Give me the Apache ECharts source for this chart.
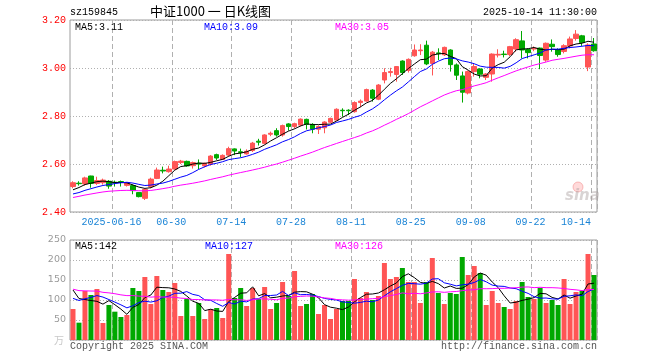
<!DOCTYPE html>
<html><head><meta charset="utf-8">
<script src="https://cdn.jsdelivr.net/npm/echarts@6/dist/echarts.min.js"></script>
<style>html,body{margin:0;padding:0;background:#fff}#c{width:660px;height:360px}</style>
</head><body><div id="c"></div>
<script>
// ---- data ----
const dates = [
'2025-06-05','2025-06-06','2025-06-09','2025-06-10','2025-06-11','2025-06-12','2025-06-13','2025-06-16','2025-06-17','2025-06-18','2025-06-19','2025-06-20','2025-06-23','2025-06-24','2025-06-25','2025-06-26','2025-06-27','2025-06-30',
'2025-07-01','2025-07-02','2025-07-03','2025-07-04','2025-07-07','2025-07-08','2025-07-09','2025-07-10','2025-07-11','2025-07-14','2025-07-15','2025-07-16','2025-07-17','2025-07-18','2025-07-21','2025-07-22','2025-07-23','2025-07-24','2025-07-25','2025-07-28','2025-07-29','2025-07-30','2025-07-31',
'2025-08-01','2025-08-04','2025-08-05','2025-08-06','2025-08-07','2025-08-08','2025-08-11','2025-08-12','2025-08-13','2025-08-14','2025-08-15','2025-08-18','2025-08-19','2025-08-20','2025-08-21','2025-08-22','2025-08-25','2025-08-26','2025-08-27','2025-08-28','2025-08-29',
'2025-09-01','2025-09-02','2025-09-03','2025-09-04','2025-09-05','2025-09-08','2025-09-09','2025-09-10','2025-09-11','2025-09-12','2025-09-15','2025-09-16','2025-09-17','2025-09-18','2025-09-19','2025-09-22','2025-09-23','2025-09-24','2025-09-25','2025-09-26','2025-09-29','2025-09-30',
'2025-10-09','2025-10-10','2025-10-13','2025-10-14'];

const open = [2.506,2.520,2.517,2.550,2.519,2.522,2.528,2.524,2.527,2.511,2.510,2.481,2.457,2.506,2.540,2.574,2.568,2.579,2.606,2.611,2.593,2.603,2.592,2.600,2.639,2.619,2.637,2.663,2.651,2.642,2.656,2.695,2.686,2.724,2.739,2.721,2.767,2.756,2.762,2.786,2.765,2.745,2.751,2.774,2.783,2.824,2.824,2.818,2.856,2.862,2.908,2.870,2.950,2.981,2.973,3.029,2.990,3.051,3.072,3.095,3.019,3.063,3.055,3.075,3.013,2.967,2.896,2.985,2.996,2.961,2.975,3.054,3.058,3.056,3.079,3.113,3.077,3.079,3.083,3.033,3.099,3.075,3.069,3.092,3.123,3.134,3.004,3.100];
const close = [2.522,2.518,2.542,2.519,2.531,2.533,2.508,2.521,2.523,2.522,2.489,2.464,2.494,2.537,2.575,2.571,2.579,2.610,2.612,2.592,2.606,2.600,2.603,2.633,2.625,2.636,2.664,2.654,2.648,2.653,2.687,2.691,2.721,2.728,2.721,2.760,2.756,2.768,2.787,2.765,2.745,2.756,2.775,2.790,2.828,2.822,2.822,2.856,2.862,2.910,2.874,2.929,2.981,2.985,3.006,2.981,3.036,3.075,3.075,3.017,3.066,3.060,3.086,3.014,2.970,2.899,2.985,3.006,2.974,2.975,3.058,3.057,3.056,3.089,3.118,3.075,3.064,3.082,3.052,3.103,3.089,3.056,3.093,3.121,3.141,3.106,3.096,3.072];
const low = [2.499,2.510,2.510,2.501,2.513,2.514,2.497,2.506,2.506,2.506,2.474,2.461,2.450,2.499,2.537,2.561,2.564,2.576,2.600,2.589,2.581,2.579,2.586,2.593,2.617,2.617,2.631,2.637,2.628,2.639,2.650,2.677,2.682,2.716,2.714,2.714,2.739,2.748,2.756,2.744,2.728,2.725,2.728,2.770,2.781,2.797,2.804,2.814,2.836,2.860,2.860,2.866,2.936,2.964,2.943,2.971,2.981,3.047,3.054,3.012,2.969,3.033,3.050,2.985,2.950,2.856,2.890,2.964,2.957,2.950,2.943,3.044,3.044,3.050,3.068,3.040,3.040,3.070,2.995,3.026,3.068,3.047,3.061,3.082,3.114,3.092,2.987,3.068];
const high = [2.528,2.528,2.547,2.551,2.547,2.539,2.533,2.531,2.531,2.525,2.515,2.483,2.499,2.543,2.585,2.589,2.593,2.614,2.617,2.614,2.610,2.619,2.606,2.637,2.643,2.640,2.672,2.665,2.664,2.661,2.692,2.705,2.724,2.735,2.749,2.764,2.770,2.772,2.790,2.789,2.770,2.761,2.778,2.793,2.832,2.832,2.828,2.861,2.869,2.914,2.912,2.933,2.999,3.001,3.008,3.032,3.040,3.098,3.099,3.114,3.071,3.082,3.089,3.078,3.019,2.985,2.989,3.019,2.999,2.978,3.061,3.078,3.072,3.092,3.124,3.154,3.082,3.090,3.085,3.106,3.119,3.082,3.099,3.131,3.158,3.138,3.103,3.125];
// volume, 万
const volume = [77.5,43.3,122.5,112.5,127.5,42.5,87.5,70.8,57.5,62.5,130,122.5,157.5,90,160,125,120,142.5,60,102.5,60,92.5,52.5,77.5,80,55,215,105,130,85,130,102.5,132.5,77.5,92.5,145,110,172.5,85,90,115,65,87.5,52.5,77.5,97.5,97.5,152.5,105,120,100,110,192.5,152.5,157.5,180,145,145,92.5,145,205,117.5,90,117.5,115,207.5,162.5,185,167.5,87.5,122.5,92.5,82.5,77.5,97.5,145,107.5,102.5,130,92.5,100,87.5,152.5,90,120,122.5,215,162.5];
// estimated sessions before the window (only feed the moving averages at the left edge)
const priorCloses = [2.37,2.38,2.39,2.40,2.41,2.42,2.47,2.48,2.50,2.50,2.51,2.50,2.49,2.47,2.45,2.45,2.44,2.47,2.48,2.48,2.46,2.45,2.45,2.46,2.47,2.47,2.48,2.49,2.50];
const priorVolumes = [150,140,125,130,138,128,135,142,120,128,160,175,150,130,145,138,142,130,128,136,95,80,78,82,80,150,135,125,137.5];

const tickDates = ['2025-06-16','2025-06-30','2025-07-14','2025-07-28','2025-08-11','2025-08-25','2025-09-08','2025-09-22','2025-10-14'];
const tickLabels = ['2025-06-16','06-30','07-14','07-28','08-11','08-25','09-08','09-22','10-14'];
const priceTicks = {min:2.40, max:3.20, step:0.20};
const volTicks = {min:0, max:250, step:50};
const maLegendPrice = ['3.11','3.09','3.05'];
const maLegendVol = ['142','127','126'];

// ---- chart ----
const RED = '#ff5555', GREEN = '#00a800';
function movingAvg(values, prior, n){
  const all = prior.concat(values);
  return values.map((_, i) => {
    const end = prior.length + i; let s = 0;
    for (let k = end - n + 1; k <= end; k++) s += all[k];
    return +(s / n).toFixed(4);
  });
}
const kData = dates.map((d, i) => [open[i], close[i], low[i], high[i]]);
const volData = volume.map((v, i) => ({value: v, itemStyle: {color: close[i] >= open[i] ? RED : GREEN}}));
const MONO = '"Liberation Mono","DejaVu Sans Mono",monospace';
const isTick = (i, v) => tickDates.indexOf(v) >= 0;

function xAxisCfg(gi, showLabel){
  return {
    type: 'category', gridIndex: gi, data: dates, boundaryGap: true,
    axisLine: {show: false}, axisTick: {show: false},
    axisLabel: {
      show: showLabel, interval: isTick, margin: 5, color: '#1a84d6', fontFamily: MONO, fontSize: 10,
      formatter: v => { const k = tickDates.indexOf(v); if (k < 0) return '';
        return (k === tickDates.length - 1 ? '{e|' : '{n|') + tickLabels[k] + '}'; },
      rich: {
        n: {color: '#1a84d6', fontFamily: MONO, fontSize: 10, padding: [0, 7, 0, 0]},
        e: {color: '#1a84d6', fontFamily: MONO, fontSize: 10, padding: [0, 36, 0, 0]}
      }
    },
    splitLine: {show: true, interval: isTick, lineStyle: {color: '#b0b0b0', width: 1, type: [5, 3]}}
  };
}
function lineSeries(data, color, xi, yi){
  return {type: 'line', data, xAxisIndex: xi, yAxisIndex: yi, symbol: 'none', smooth: false,
    lineStyle: {color, width: 1}, itemStyle: {color}, z: 3};
}

const chart = echarts.init(document.getElementById('c'), null, {renderer: 'canvas'});
chart.setOption({
  animation: false,
  backgroundColor: '#ffffff',
  grid: [
    {left: 70, top: 20, width: 527, height: 192, show: true, borderColor: '#9c9c9c', borderWidth: 1},
    {left: 70, top: 240, width: 527, height: 100, show: true, borderColor: '#9c9c9c', borderWidth: 1}
  ],
  xAxis: [xAxisCfg(0, true), xAxisCfg(1, false)],
  yAxis: [
    {gridIndex: 0, min: priceTicks.min, max: priceTicks.max, interval: priceTicks.step,
     axisLine: {show: false}, axisTick: {show: false},
     axisLabel: {color: '#ff0000', fontFamily: MONO, fontSize: 10, margin: 4, formatter: v => v.toFixed(2)},
     splitLine: {lineStyle: {color: '#b0b0b0', width: 1, type: [1, 2]}}},
    {gridIndex: 1, min: volTicks.min, max: volTicks.max, interval: volTicks.step,
     axisLine: {show: false}, axisTick: {show: false},
     axisLabel: {color: '#9a9a9a', fontFamily: '"DejaVu Sans",sans-serif', fontSize: 9.5, margin: 4,
       formatter: v => v === 0 ? '' : String(v)},
     splitLine: {lineStyle: {color: '#b0b0b0', width: 1, type: [1, 2]}}}
  ],
  series: [
    {type: 'candlestick', data: kData, xAxisIndex: 0, yAxisIndex: 0, barWidth: 5,
     itemStyle: {color: RED, color0: GREEN, borderColor: RED, borderColor0: GREEN, borderWidth: 1}, z: 2},
    lineSeries(movingAvg(close, priorCloses, 5), '#000000', 0, 0),
    lineSeries(movingAvg(close, priorCloses, 10), '#0000ff', 0, 0),
    lineSeries(movingAvg(close, priorCloses, 30), '#ff00ff', 0, 0),
    {type: 'bar', data: volData, xAxisIndex: 1, yAxisIndex: 1, barWidth: 5, z: 2},
    lineSeries(movingAvg(volume, priorVolumes, 5), '#000000', 1, 1),
    lineSeries(movingAvg(volume, priorVolumes, 10), '#0000ff', 1, 1),
    lineSeries(movingAvg(volume, priorVolumes, 30), '#ff00ff', 1, 1)
  ],
  graphic: [
    {type: 'text', left: 70, top: 7, style: {text: 'sz159845', font: '10px ' + MONO, fill: '#000'}},
    {type: 'text', left: 150, top: 5, style: {text: '中证1000 一 日K线图', font: '13px "Noto Sans CJK SC",sans-serif', fill: '#000'}},
    {type: 'text', right: 63, top: 7, style: {text: '2025-10-14 11:30:00', font: '10px ' + MONO, fill: '#000'}},
    {type: 'text', left: 75, top: 22, z: 10, style: {text: 'MA5:' + maLegendPrice[0], font: '10px ' + MONO, fill: '#000'}},
    {type: 'text', left: 204, top: 22, z: 10, style: {text: 'MA10:' + maLegendPrice[1], font: '10px ' + MONO, fill: '#0000ff'}},
    {type: 'text', left: 335, top: 22, z: 10, style: {text: 'MA30:' + maLegendPrice[2], font: '10px ' + MONO, fill: '#ff00ff'}},
    {type: 'text', left: 75, top: 241, z: 10, style: {text: 'MA5:' + maLegendVol[0], font: '10px ' + MONO, fill: '#000'}},
    {type: 'text', left: 205, top: 241, z: 10, style: {text: 'MA10:' + maLegendVol[1], font: '10px ' + MONO, fill: '#0000ff'}},
    {type: 'text', left: 335, top: 241, z: 10, style: {text: 'MA30:' + maLegendVol[2], font: '10px ' + MONO, fill: '#ff00ff'}},
    {type: 'text', left: 54, top: 335, style: {text: '万', font: '10px "Noto Sans CJK SC",sans-serif', fill: '#c8c8c8'}},
    {type: 'text', left: 70, top: 341, style: {text: 'Copyright 2025 SINA.COM', font: '10px ' + MONO, fill: '#555'}},
    {type: 'text', right: 63, top: 341, style: {text: 'http://finance.sina.com.cn', font: '10px ' + MONO, fill: '#555'}},
    {type: 'circle', shape: {cx: 578, cy: 187, r: 5}, style: {fill: 'rgba(255,150,150,0.35)', stroke: 'rgba(240,120,120,0.45)', lineWidth: 1}, z: 1},
    {type: 'text', left: 565, top: 189, z: 1, style: {text: 'sina', font: 'italic bold 15px "DejaVu Sans",sans-serif', fill: 'rgba(170,160,160,0.45)'}}
  ]
});
</script></body></html>
